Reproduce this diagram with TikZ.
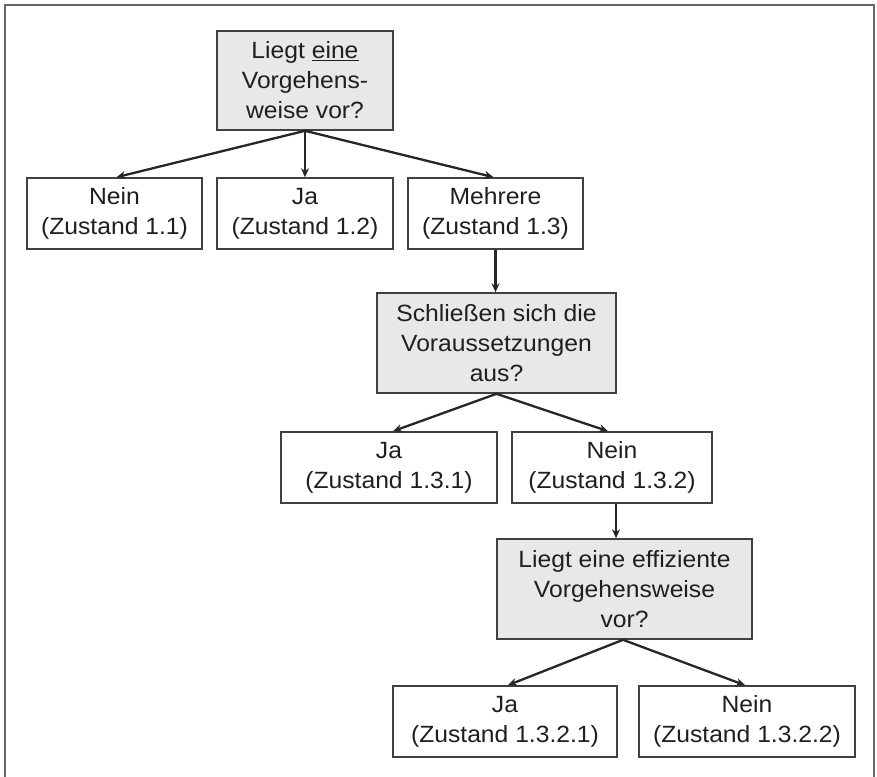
\documentclass[tikz,border=0pt]{standalone}
\usepackage{fontspec}
\setmainfont{Liberation Sans}[FakeStretch=1.05]
\usetikzlibrary{arrows.meta}
\tikzset{
  box/.style={draw=black!75, line width=1.6pt, fill=white, inner sep=0pt, align=center,
    text=black!88, font=\fontsize{23.5pt}{30pt}\selectfont, minimum height=71pt},
  qbox/.style={box, fill=black!9, minimum height=99pt},
  conn/.style={draw=black!85, line width=2.3pt, -{Stealth[length=9pt,width=8pt]}},
  frame/.style={draw=black!60, line width=2.2pt}
}
\begin{document}
\begin{tikzpicture}[x=1pt,y=-1pt]
\useasboundingbox (0,0) rectangle (877,776);
\draw[frame] (5,780) -- (5,5) -- (874,5) -- (874,780);
\node[qbox, minimum width=176pt] (top) at (305,80.5) {Liegt \underline{eine}\\Vorgehens-\\weise vor?};
\node[box, minimum width=175pt] (nein1) at (114.5,213.5) {Nein\\(Zustand 1.1)};
\node[box, minimum width=176pt] (ja1) at (305,213.5) {Ja\\(Zustand 1.2)};
\node[box, minimum width=175pt] (mehr) at (495.5,213.5) {Mehrere\\(Zustand 1.3)};
\node[qbox, minimum width=239pt, minimum height=100pt] (schl) at (496.5,343) {Schließen sich die\\Voraussetzungen\\aus?};
\node[box, minimum width=216pt] (ja2) at (389,467.5) {Ja\\(Zustand 1.3.1)};
\node[box, minimum width=200pt] (nein2) at (612,467.5) {Nein\\(Zustand 1.3.2)};
\node[qbox, minimum width=255pt, minimum height=100pt] (liegt2) at (624.5,589) {Liegt eine effiziente\\Vorgehensweise\\vor?};
\node[box, minimum width=224pt] (ja3) at (505,721.5) {Ja\\(Zustand 1.3.2.1)};
\node[box, minimum width=216pt] (nein3) at (747,721.5) {Nein\\(Zustand 1.3.2.2)};
\draw[conn] (top.south) -- ([xshift=2pt]nein1.north);
\draw[conn] (top.south) -- (ja1.north);
\draw[conn] (top.south) -- ([xshift=-2pt]mehr.north);
\draw[conn] (mehr.south) -- (mehr.south |- schl.north);
\draw[conn] (schl.south) -- ([xshift=4pt]ja2.north);
\draw[conn] (schl.south) -- ([xshift=-4pt]nein2.north);
\draw[conn] ([xshift=4pt]nein2.south) -- ([xshift=4pt]nein2.south |- liegt2.north);
\draw[conn] ([xshift=-1.5pt]liegt2.south) -- ([xshift=3pt]ja3.north);
\draw[conn] ([xshift=-1.5pt]liegt2.south) -- ([xshift=-2pt]nein3.north);
\end{tikzpicture}
\end{document}
